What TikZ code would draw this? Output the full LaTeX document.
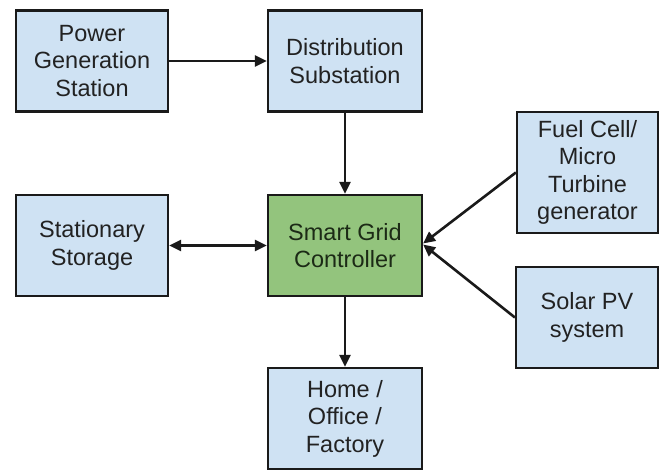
\documentclass[tikz,border=0pt]{standalone}
\usepackage{fontspec}
\setmainfont{Liberation Sans}
\usetikzlibrary{arrows.meta}
\definecolor{boxblue}{HTML}{CFE2F3}
\definecolor{boxgreen}{HTML}{93C47D}
\definecolor{edge}{HTML}{1A1A1A}
\definecolor{txt}{HTML}{222222}
\definecolor{gtxt}{HTML}{1C2A16}
\begin{document}
\begin{tikzpicture}[x=1pt,y=1pt,
  blk/.style={draw=edge,line width=2.2pt,fill=boxblue,align=center,inner sep=0pt,
    text=txt,font=\fontsize{23.5}{27.5}\selectfont},
  arr/.style={draw=edge,line width=2.6pt,-{Triangle[length=12pt,width=11pt]}},
  darr/.style={draw=edge,line width=2.6pt,{Triangle[length=12pt,width=11pt]}-{Triangle[length=12pt,width=11pt]}}]
\useasboundingbox (0,0) rectangle (659,470);
\fill[white] (0,0) rectangle (659,470);
\node[blk,minimum width=152pt,minimum height=101pt] (pgs) at (92,409) {Power\\Generation\\Station};
\node[blk,minimum width=154pt,minimum height=101pt] (dist) at (345,409) {Distribution\\Substation};
\node[blk,minimum width=154pt,minimum height=101pt,fill=boxgreen,text=gtxt] (smart) at (345,224.5) {Smart Grid\\Controller};
\node[blk,minimum width=152pt,minimum height=101pt] (stor) at (92,224.5) {Stationary\\Storage};
\node[blk,minimum width=154pt,minimum height=101pt] (home) at (345,51.5) {Home /\\Office /\\Factory};
\node[blk,minimum width=141pt,minimum height=121pt] (fuel) at (587.5,297.5) {Fuel Cell/\\Micro\\Turbine\\generator};
\node[blk,minimum width=142pt,minimum height=101pt] (solar) at (587,152.5) {Solar PV\\system};
\draw[arr] (pgs.east) -- (dist.west);
\draw[arr] (dist.south) -- (smart.north);
\draw[darr] (stor.east) -- (smart.west);
\draw[arr] (smart.south) -- (home.north);
\draw[arr] (fuel.west) -- ([yshift=2pt]smart.east);
\draw[arr] (solar.west) -- ([yshift=1pt]smart.east);
\end{tikzpicture}
\end{document}
